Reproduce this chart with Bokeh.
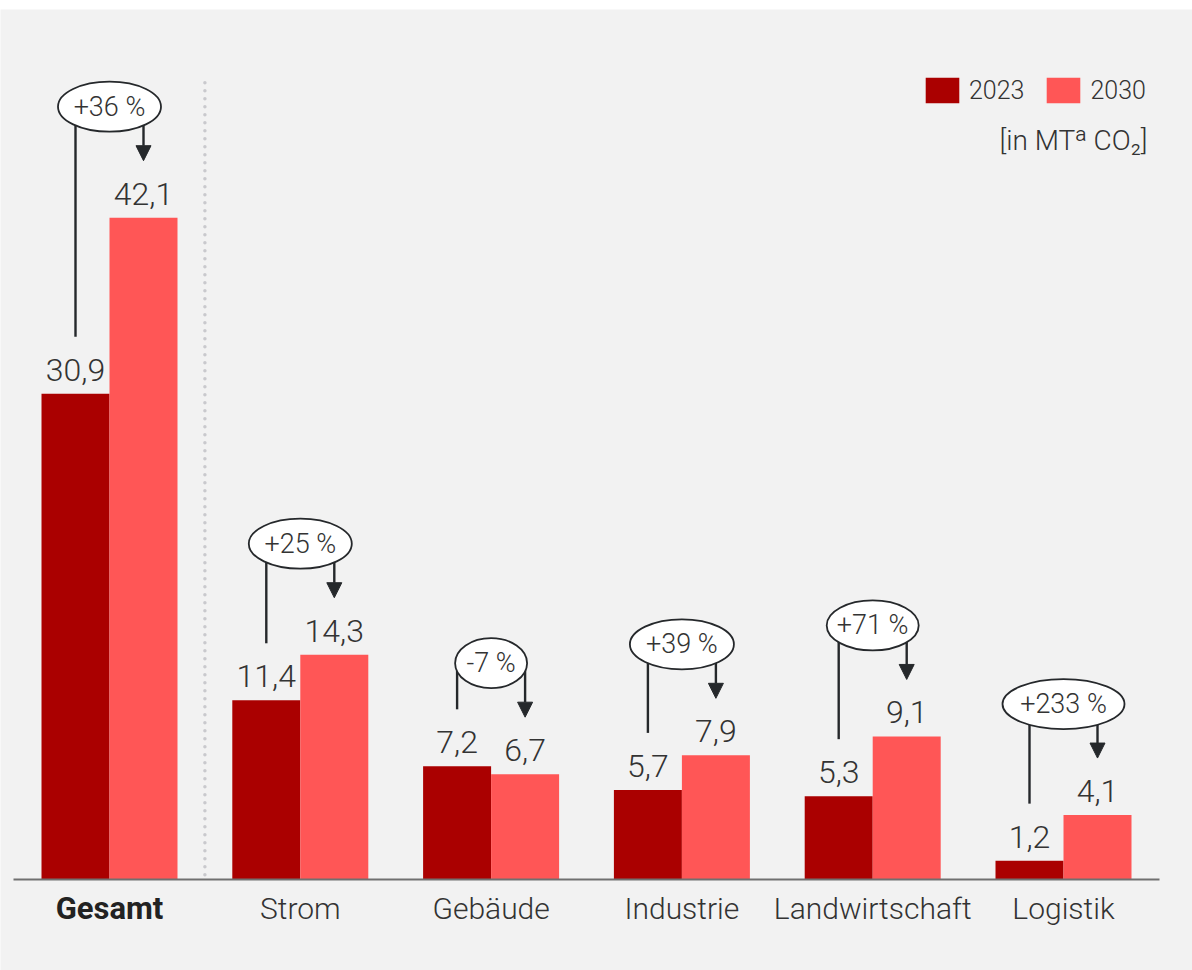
from bokeh.plotting import figure
from bokeh.models import Range1d, ColumnDataSource, Arrow, NormalHead, Legend, LegendItem
from bokeh.core.properties import value
from bokeh.embed import file_html
from bokeh.resources import INLINE

# ---------------- data ----------------
categories = ["Gesamt", "Strom", "Gebäude", "Industrie", "Landwirtschaft", "Logistik"]
values_2023 = [30.9, 11.4, 7.2, 5.7, 5.3, 1.2]
values_2030 = [42.1, 14.3, 6.7, 7.9, 9.1, 4.1]
change_labels = ["+36 %", "+25 %", "-7 %", "+39 %", "+71 %", "+233 %"]
series_names = ["2023", "2030"]
unit_label = "[in MTᵃ CO₂]"

# ---------------- styling / layout ----------------
FONT = "Roboto Light"
TXT = "#333333"
DARK = "#25282b"
C2023 = "#aa0000"
C2030 = "#ff5656"
BG = "#f2f2f2"
ellipse_w_px = [103, 103, 72, 104, 92, 122]

W, H = 1192, 970
TOP = 9          # white strip on top
PX_X = 190.8     # px per category step
PX_Y = 15.72     # px per Mt
X0 = 109         # page x of first category
Y0 = 879         # page y of baseline

def dx(px):  # page x -> data x
    return (px - X0) / PX_X

def dy(py):  # page y -> data y
    return (Y0 - py) / PX_Y

x_start, x_end = dx(0), dx(W)
y_start, y_end = dy(H), dy(TOP)

BW = 68 / PX_X
half = BW / 2

n = len(categories)
xi = list(range(n))
x23 = [i - half for i in xi]
x30 = [i + half for i in xi]
fmt = lambda v: f"{v:.1f}".replace(".", ",")

p = figure(width=W, height=H, x_range=Range1d(x_start, x_end), y_range=Range1d(y_start, y_end),
           output_backend="svg", toolbar_location=None,
           min_border_left=0, min_border_right=0, min_border_bottom=0, min_border_top=TOP,
           x_axis_type=None, y_axis_type=None,
           background_fill_color=BG, border_fill_color="white", outline_line_color=None)
p.grid.visible = False

# separator (dotted)
p.segment(x0=[0.5], y0=[0.3], x1=[0.5], y1=[dy(80)], line_color="#c9c9cd",
          line_width=3.5, line_dash="0 8", line_cap="round")

# bars
src23 = ColumnDataSource(dict(x=x23, top=values_2023, lab=[fmt(v) for v in values_2023]))
src30 = ColumnDataSource(dict(x=x30, top=values_2030, lab=[fmt(v) for v in values_2030]))
r23 = p.vbar(x="x", top="top", bottom=0, width=BW, source=src23, fill_color=C2023, line_color=None)
r30 = p.vbar(x="x", top="top", bottom=0, width=BW, source=src30, fill_color=C2030, line_color=None)

# baseline
p.segment(x0=[dx(13)], y0=[0], x1=[dx(1159)], y1=[0], line_color="#707070", line_width=2)

# value labels
for s in (src23, src30):
    p.text(x="x", y="top", text="lab", source=s, text_align="center", text_baseline="middle",
           y_offset=-24, text_font=value(FONT), text_font_size="32px", text_color=TXT)

# category labels
p.text(x=xi[1:], y=[dy(908)] * (n - 1), text=categories[1:], text_align="center",
       text_baseline="middle", text_font=value(FONT), text_font_size="30px", text_color=TXT)
p.text(x=[xi[0]], y=[dy(908)], text=[categories[0]], text_align="center", text_baseline="middle",
       text_font=value("Roboto"), text_font_style="bold", text_font_size="31px", text_color="#222222")

# change annotations
ell_y = [v + 111 / PX_Y for v in values_2030]
left_end = [v + 57 / PX_Y for v in values_2023]
tip = [v + 57 / PX_Y for v in values_2030]
p.segment(x0=x23, y0=ell_y, x1=x23, y1=left_end, line_color=DARK, line_width=2.4)
asrc = ColumnDataSource(dict(xs=x30, ys=ell_y, ye=tip))
p.add_layout(Arrow(end=NormalHead(size=15, fill_color=DARK, line_color=DARK, line_width=1),
                   x_start="xs", y_start="ys", x_end="xs", y_end="ye", source=asrc,
                   line_color=DARK, line_width=2.4))
er = p.ellipse(x=xi, y=ell_y, width=ellipse_w_px, height=50, width_units="screen",
               height_units="screen", fill_color="white", line_color=DARK, line_width=1.8)
er.level = "overlay"
tr = p.text(x=xi, y=ell_y, text=change_labels, text_align="center", text_baseline="middle",
            text_font=value(FONT), text_font_size="27px", text_color=TXT)
tr.level = "overlay"

# legend
legend = Legend(items=[LegendItem(label=series_names[0], renderers=[r23]),
                       LegendItem(label=series_names[1], renderers=[r30])],
                orientation="horizontal", location=(921, 864),
                glyph_width=42, glyph_height=32, label_standoff=6, spacing=18,
                padding=0, margin=0, border_line_alpha=0, background_fill_alpha=0,
                label_height=32, label_text_font=FONT, label_text_font_size="25px",
                label_text_color=TXT, label_text_baseline="middle")
p.add_layout(legend)

p.text(x=[dx(1147)], y=[dy(140)], text=[unit_label], text_align="right", text_baseline="middle",
       text_font=value(FONT), text_font_size="28px", text_color=TXT)

open("out.html", "w").write(file_html(p, INLINE))
